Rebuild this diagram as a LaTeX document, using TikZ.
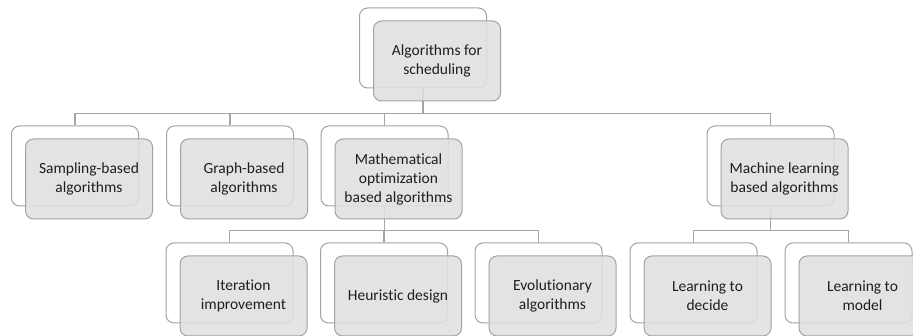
\documentclass[tikz,border=0pt]{standalone}
\usepackage{fontspec}
\setmainfont[Ligatures={NoCommon}]{Carlito}
\definecolor{boxline}{HTML}{A3A3A3}
\definecolor{linecol}{HTML}{A5A5A5}
\definecolor{boxfill}{HTML}{E0E0E0}
\definecolor{textcol}{HTML}{1E1E1E}
\begin{document}
\begin{tikzpicture}[x=1pt,y=-1pt,
  backbox/.style={draw=boxline, fill=white, rounded corners=8pt, minimum width=127pt, minimum height=80pt, line width=1pt, inner sep=0pt},
  frontbox/.style={draw=boxline, fill=boxfill, fill opacity=0.88, text opacity=1, rounded corners=8pt, minimum width=127pt, minimum height=80pt, line width=1pt, inner sep=0pt, align=center, font=\fontsize{15.5}{19}\selectfont, text=textcol},
  link/.style={draw=linecol, line width=1.3pt}]
\clip (0,0) rectangle (913,336);
\useasboundingbox (0,0) rectangle (913,336);
% back boxes
\node[backbox] (rootb) at (423,48) {};
\node[backbox] (sampb) at (75,166) {};
\node[backbox] (graphb) at (230,166) {};
\node[backbox] (mathb) at (384.5,166) {};
\node[backbox] (mlb) at (770.5,166) {};
\node[backbox] (iterb) at (229.5,283) {};
\node[backbox] (heurb) at (384,283) {};
\node[backbox] (evob) at (538.5,283) {};
\node[backbox] (decb) at (693.5,283) {};
\node[backbox] (modb) at (848.5,283) {};
% connectors (beneath the front boxes)
\draw[link] (rootb.south) |- ([yshift=12pt]sampb.north) -- (sampb.north);
\draw[link] (rootb.south) |- ([yshift=12pt]graphb.north) -- (graphb.north);
\draw[link] (rootb.south) |- ([yshift=12pt]mathb.north) -- (mathb.north);
\draw[link] (rootb.south) |- ([yshift=12pt]mlb.north) -- (mlb.north);
\draw[link] (mathb.south) |- ([yshift=12pt]iterb.north) -- (iterb.north);
\draw[link] (mathb.south) |- ([yshift=12pt]heurb.north) -- (heurb.north);
\draw[link] (mathb.south) |- ([yshift=12pt]evob.north) -- (evob.north);
\draw[link] (mlb.south) |- ([yshift=12pt]decb.north) -- (decb.north);
\draw[link] (mlb.south) |- ([yshift=12pt]modb.north) -- (modb.north);
% front boxes
\node[frontbox] (root) at (437,61) {Algorithms for\\scheduling};
\node[frontbox] (samp) at (89,179) {Sampling-based\\algorithms};
\node[frontbox] (graph) at (244,179) {Graph-based\\algorithms};
\node[frontbox] (math) at (398.5,179) {Mathematical\\optimization\\based algorithms};
\node[frontbox] (ml) at (784.5,179) {Machine learning\\based algorithms};
\node[frontbox] (iter) at (243.5,296) {Iteration\\improvement};
\node[frontbox] (heur) at (398,296) {Heuristic design};
\node[frontbox] (evo) at (552.5,296) {Evolutionary\\algorithms};
\node[frontbox] (dec) at (707.5,296) {Learning to\\decide};
\node[frontbox] (mod) at (862.5,296) {Learning to\\model};
\end{tikzpicture}
\end{document}
